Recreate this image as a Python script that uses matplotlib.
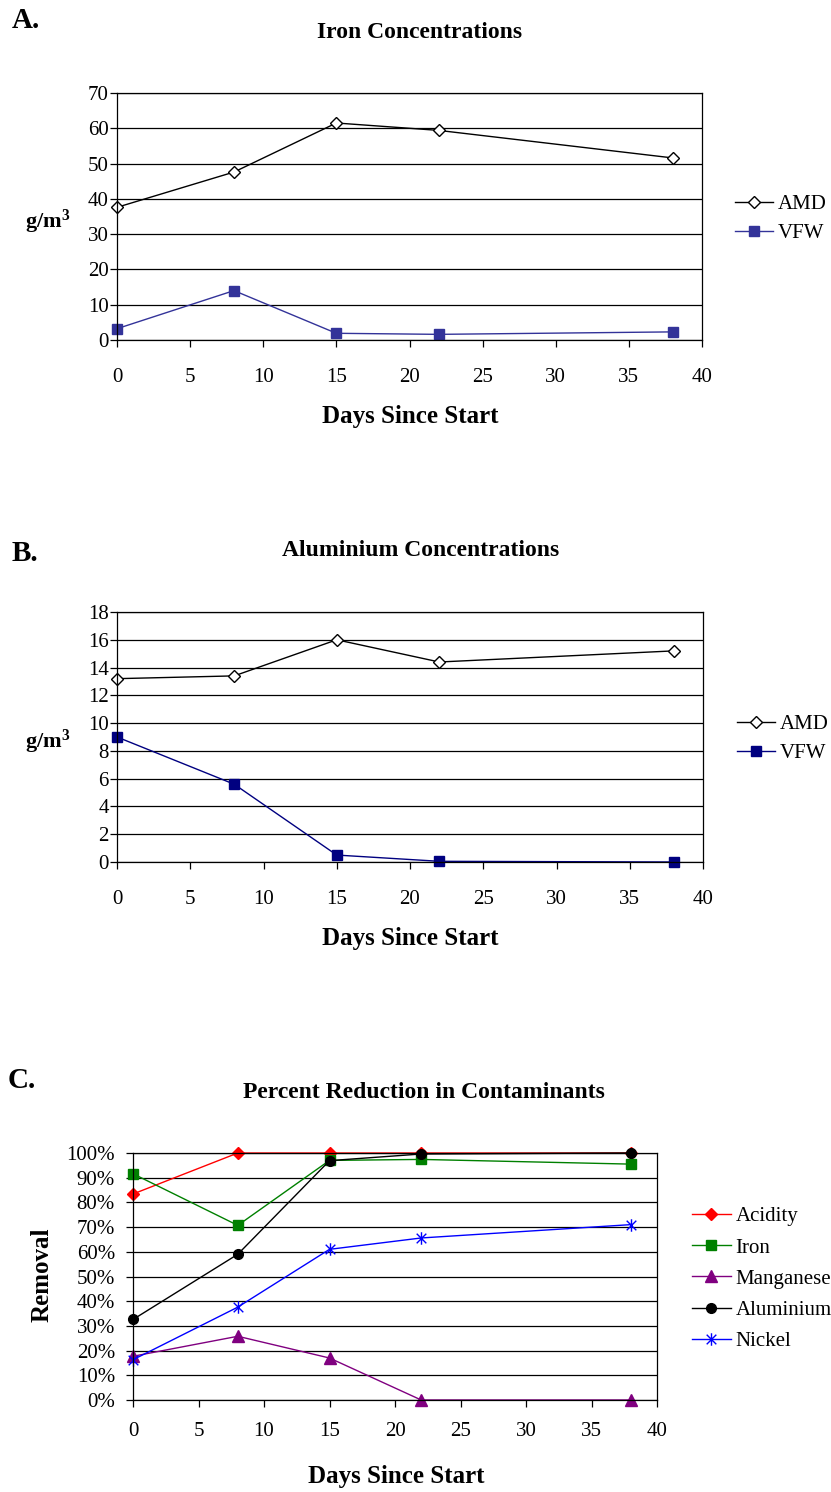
import matplotlib
matplotlib.use("Agg")
import matplotlib.pyplot as plt
import matplotlib.ticker as ticker
from matplotlib.path import Path

plt.rcParams['font.family'] = ['Liberation Serif', 'DejaVu Serif']
plt.rcParams['mathtext.fontset'] = 'custom'
plt.rcParams['mathtext.rm'] = 'Liberation Serif'
plt.rcParams['mathtext.bf'] = 'Liberation Serif:bold'

days = [0, 8, 15, 22, 38]

# A. iron (g/m3)
iron_amd = [37.6, 47.6, 61.5, 59.4, 51.6]
iron_vfw = [3.2, 14.0, 1.9, 1.6, 2.3]

# B. aluminium (g/m3)
al_amd = [13.2, 13.4, 16.0, 14.4, 15.2]
al_vfw = [9.0, 5.6, 0.5, 0.05, 0.0]

# C. percent removal
acidity = [0.834, 1.0, 1.0, 1.0, 1.0]
iron_pct = [0.916, 0.707, 0.97, 0.974, 0.955]
manganese = [0.177, 0.258, 0.17, 0.0, 0.0]
aluminium = [0.326, 0.59, 0.969, 0.996, 1.0]
nickel = [0.163, 0.376, 0.61, 0.656, 0.71]

W, H = 831, 1492
fig = plt.figure(figsize=(W / 100, H / 100), dpi=100)

# excel-style asterisk: x plus a vertical bar
star = Path([(-1, -1), (1, 1), (-1, 1), (1, -1), (0, -1.3), (0, 1.3)],
            [Path.MOVETO, Path.LINETO] * 3)


def box(l, t, r, b):
    # pixel box -> figure fraction
    return [l / W, 1 - b / H, (r - l) / W, (b - t) / H]


def style(ax, ymax, ystep, xpad, ypad):
    ax.set_xlim(0, 40)
    ax.set_ylim(0, ymax)
    ax.xaxis.set_major_locator(ticker.MultipleLocator(5))
    ax.yaxis.set_major_locator(ticker.MultipleLocator(ystep))
    ax.grid(axis='y', color='black', linewidth=0.9)
    ax.set_axisbelow(True)
    ax.tick_params(direction='out', length=5, width=0.9, labelsize=15,
                   colors='black')
    ax.tick_params(axis='x', pad=xpad)
    ax.tick_params(axis='y', pad=ypad)
    for s in ax.spines.values():
        s.set_color('black')
        s.set_linewidth(0.9)


def legend(ax, x, y, hl=1.8, ls=0.45):
    ax.legend(loc='center left', bbox_to_anchor=(x / W, 1 - y / H),
              bbox_transform=fig.transFigure, frameon=False, fontsize=15,
              handlelength=hl, labelspacing=ls, handletextpad=0.25,
              borderpad=0, borderaxespad=0)


# ---- A ----
axA = fig.add_axes(box(117, 93, 702, 340))
axA.plot(days, iron_amd, color='black', lw=1, marker='D', ms=6,
         mfc='white', mec='black', mew=1, label='AMD', clip_on=False)
axA.plot(days, iron_vfw, color='#333399', lw=1, marker='s', ms=7,
         mfc='#333399', mec='#333399', label='VFW', clip_on=False)
style(axA, 70, 10, 15, 1)
legend(axA, 735, 219)
fig.text(420 / W, 1 - 32 / H, 'Iron Concentrations', ha='center', va='center',
         fontsize=17, fontweight='bold')
fig.text(410 / W, 1 - 416 / H, 'Days Since Start', ha='center', va='center',
         fontsize=18, fontweight='bold')
fig.text(48 / W, 1 - 222 / H, r'$\mathbf{g/m^3}$', ha='center', va='center',
         fontsize=16)
fig.text(12 / W, 1 - 20 / H, 'A.', ha='left', va='center',
         fontsize=21, fontweight='bold')

# ---- B ----
axB = fig.add_axes(box(117, 612, 703, 862))
axB.plot(days, al_amd, color='black', lw=1, marker='D', ms=6,
         mfc='white', mec='black', mew=1, label='AMD', clip_on=False)
axB.plot(days, al_vfw, color='#000080', lw=1, marker='s', ms=7,
         mfc='#000080', mec='#000080', label='VFW', clip_on=False)
style(axB, 18, 2, 15, 1)
legend(axB, 737, 739)
fig.text(421 / W, 1 - 551 / H, 'Aluminium Concentrations', ha='center',
         va='center', fontsize=17, fontweight='bold')
fig.text(410 / W, 1 - 938 / H, 'Days Since Start', ha='center', va='center',
         fontsize=18, fontweight='bold')
fig.text(48 / W, 1 - 742 / H, r'$\mathbf{g/m^3}$', ha='center', va='center',
         fontsize=16)
fig.text(12 / W, 1 - 553 / H, 'B.', ha='left', va='center',
         fontsize=21, fontweight='bold')

# ---- C ----
axC = fig.add_axes(box(133, 1153, 657, 1400))
axC.plot(days, acidity, color='red', lw=1, marker='D', ms=6,
         mfc='red', mec='red', label='Acidity', clip_on=False)
axC.plot(days, iron_pct, color='green', lw=1, marker='s', ms=7,
         mfc='green', mec='green', label='Iron', clip_on=False)
axC.plot(days, manganese, color='purple', lw=1, marker='^', ms=8,
         mfc='purple', mec='purple', label='Manganese', clip_on=False)
axC.plot(days, aluminium, color='black', lw=1, marker='o', ms=7,
         mfc='black', mec='black', label='Aluminium', clip_on=False)
axC.plot(days, nickel, color='blue', lw=1, marker=star, ms=9, mew=1,
         label='Nickel', clip_on=False)
style(axC, 1.0, 0.1, 11, 8)
axC.yaxis.set_major_formatter(ticker.PercentFormatter(1.0, decimals=0))
legend(axC, 692, 1279, hl=1.85, ls=0.56)
fig.text(424 / W, 1 - 1093 / H, 'Percent Reduction in Contaminants',
         ha='center', va='center', fontsize=17, fontweight='bold')
fig.text(396 / W, 1 - 1476 / H, 'Days Since Start', ha='center', va='center',
         fontsize=18, fontweight='bold')
fig.text(42 / W, 1 - 1275 / H, 'Removal', ha='center', va='center',
         fontsize=18, fontweight='bold', rotation=90)
fig.text(8 / W, 1 - 1080 / H, 'C.', ha='left', va='center',
         fontsize=21, fontweight='bold')

fig.savefig('out.png', dpi=100)
